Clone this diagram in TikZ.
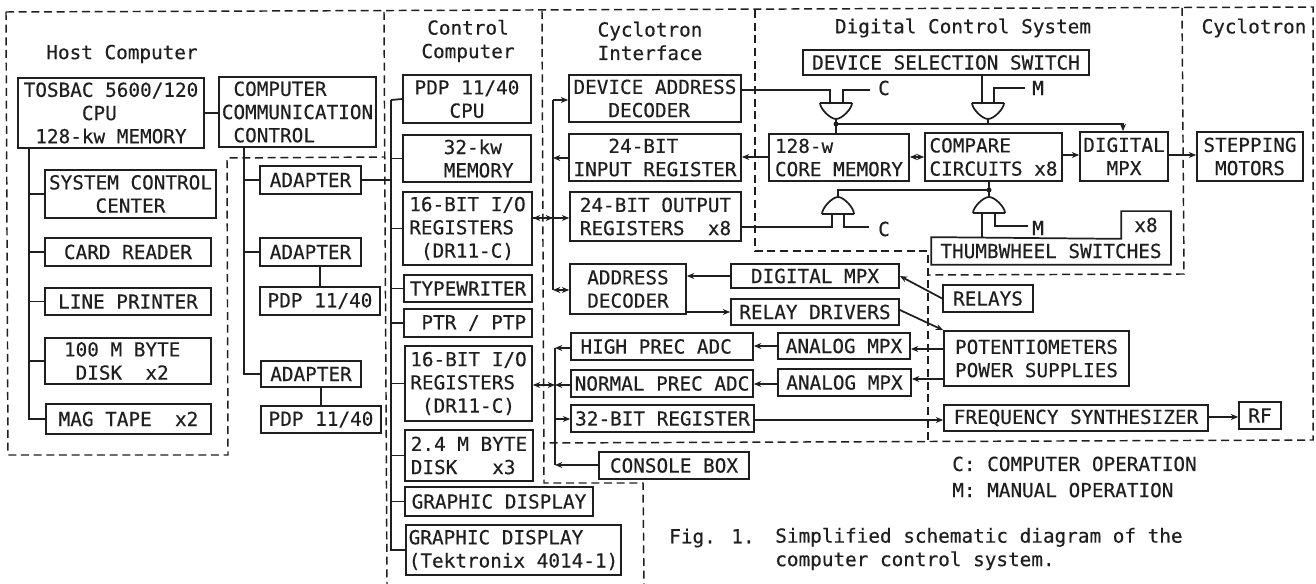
\documentclass[tikz,border=0pt]{standalone}
\usepackage{fontspec}
\setmainfont{DejaVu Sans Mono}[FakeBold=0.35]
\usetikzlibrary{arrows.meta}
\newcommand\cc{\phantom{0}}
\newcommand\bx[7][]{%
  \pgfmathsetmacro\bxw{(#5-#3)*0.75}%
  \pgfmathsetmacro\bxh{(#6-#4)*0.75}%
  \pgfmathsetmacro\bxx{(#3+#5)/2}%
  \pgfmathsetmacro\bxy{(#4+#6)/2}%
  \node[boxn,#1,minimum width=\bxw pt,minimum height=\bxh pt] (#2) at (\bxx,\bxy) {#7};}
% gate: name, centre x, flat y, tip y (tip may be above or below the flat side)
\newcommand\gate[4]{%
  \pgfmathsetmacro\gl{#2-16}\pgfmathsetmacro\gr{#2+16}%
  \pgfmathsetmacro\gm{#3+(#4-#3)*0.35}%
  \draw[wire] (\gl,#3) -- (\gr,#3) (\gl,#3) .. controls (\gl,\gm) and (#2-6,#4) .. (#2,#4)
     .. controls (#2+6,#4) and (\gr,\gm) .. (\gr,#3);
  \coordinate (#1) at (#2,#4);}
\tikzset{
  x=0.75pt,y=-0.75pt,
  wire/.style={line width=1.3pt,black!88},
  boxn/.style={draw=black!88,line width=1.3pt,inner sep=0pt,align=left,font=\fontsize{14.5pt}{17.4pt}\selectfont,text=black!88},
  free/.style={inner sep=0pt,font=\fontsize{14.5pt}{17.6pt}\selectfont,text=black!88,align=center},
  zone/.style={line width=1.1pt,black!88,dash pattern=on 6pt off 3.5pt},
  tipf/.style={-{Stealth[length=5.5pt,width=4.5pt]}},
  tipb/.style={{Stealth[length=5.5pt,width=4.5pt]}-},
  tipd/.style={{Stealth[length=5.5pt,width=4.5pt]}-{Stealth[length=5.5pt,width=4.5pt]}},
}
\begin{document}
\begin{tikzpicture}
\useasboundingbox (0,0) rectangle (1316,584);
\fill[white] (0,0) rectangle (1316,584);
% zones
\draw[zone] (6,12) -- (1313,7) -- (1313,440) -- (544,443);
\draw[zone] (6,12) -- (8,455) -- (228,455) -- (227,158) -- (384,157);
\draw[zone] (384,12) -- (387,584);
\draw[zone] (542,11) -- (544,483) -- (643,483) -- (644,584);
\draw[zone] (755,10) -- (755,251) -- (928,251) -- (928,441);
\draw[zone] (1182,8) -- (1184,274) -- (928,275);
% titles
\node[free] (t1) at (122,54) {Host Computer};
\node[free] (t2) at (468,41) {Control\\Computer};
\node[free] (t3) at (650,41) {Cyclotron\\Interface};
\node[free] (t4) at (963,28) {Digital Control System};
\node[free] (t5) at (1254,28) {Cyclotron};
% host
\bx{tos}{18}{78}{204}{148}{TOSBAC 5600/120\\\cc\cc\cc\cc\cc CPU\\\cc 128-kw MEMORY\cc}
\bx{comm}{219}{77}{376}{147}{\cc COMPUTER\\COMMUNICATION\\\cc CONTROL}
\bx{sys}{45}{170}{216}{218}{SYSTEM CONTROL\\\cc\cc\cc\cc CENTER}
\bx{card}{45}{238}{211}{266}{CARD READER}
\bx{line}{45}{288}{211}{315}{LINE PRINTER}
\bx{disk}{45}{338}{211}{384}{100 M BYTE\cc\\\cc DISK~~x2}
\bx{mag}{46}{404}{211}{434}{MAG TAPE~~x2}
\bx{ad1}{260}{166}{361}{194}{ADAPTER}
\bx{ad2}{260}{238}{361}{266}{ADAPTER}
\bx{pa}{260}{287}{380}{315}{PDP 11/40}
\bx{ad3}{261}{361}{361}{387}{ADAPTER}
\bx{pb}{261}{406}{381}{433}{PDP 11/40}
% control computer
\bx{cpu}{403}{75}{531}{123}{PDP 11/40\\\cc\cc\cc CPU}
\bx{mem}{403}{135}{531}{182}{\cc\cc32-kw\\\cc\cc MEMORY}
\bx{ioa}{403}{192}{532}{265}{16-BIT I/O\\REGISTERS\\\cc(DR11-C)}
\bx{type}{404}{275}{532}{302}{TYPEWRITER}
\bx{ptr}{404}{309}{532}{337}{\cc PTR / PTP}
\bx{iob}{405}{346}{532}{421}{16-BIT I/O\\REGISTERS\\\cc(DR11-C)}
\bx{dk}{405}{430}{533}{481}{2.4 M BYTE\\DISK~~~x3}
\bx{gd}{405}{487}{593}{516}{GRAPHIC DISPLAY}
\bx{gt}{406}{525}{621}{575}{GRAPHIC DISPLAY\\(Tektronix 4014-1)}
% interface
\bx{dev}{569}{75}{741}{122}{DEVICE ADDRESS\\\cc\cc\cc DECODER}
\bx{inr}{569}{134}{741}{181}{\cc\cc\cc 24-BIT\\INPUT REGISTER}
\bx{outr}{570}{192}{741}{241}{24-BIT OUTPUT\\REGISTERS~~x8}
\bx{addr}{570}{264}{686}{314}{ADDRESS\\DECODER}
\bx{hi}{571}{333}{753}{360}{HIGH PREC ADC\cc}
\bx{no}{571}{370}{753}{397}{NORMAL PREC ADC}
\bx{rg}{571}{405}{754}{432}{32-BIT REGISTER}
\bx{con}{599}{452}{749}{479}{CONSOLE BOX}
\bx{dm}{731}{264}{899}{288}{DIGITAL MPX}
\bx{rd}{731}{299}{899}{325}{RELAY DRIVERS}
\bx{ama}{778}{333}{910}{359}{ANALOG MPX}
\bx{amb}{778}{369}{911}{396}{ANALOG MPX}
% digital control
\bx{dss}{803}{50}{1089}{75}{DEVICE SELECTION SWITCH}
\bx{core}{769}{134}{909}{181}{128-w\\CORE MEMORY}
\bx{cmp}{925}{133}{1062}{181}{COMPARE\\CIRCUITS x8}
\bx{mpx}{1080}{132}{1168}{181}{DIGITAL\\\cc\cc MPX}
\bx[draw=none]{th}{932}{238}{1170}{264}{THUMBWHEEL SWITCHES}
\bx[draw=none]{te}{1122}{212}{1170}{238}{x8}
\draw[wire] (th.north west) -- (te.south west) -- (te.north west) -- (te.north east) -- (th.south east) -- (th.south west) -- cycle;
% cyclotron
\bx{step}{1197}{132}{1303}{181}{STEPPING\\\cc MOTORS}
\bx{rel}{943}{285}{1033}{312}{RELAYS}
\bx{pot}{944}{331}{1129}{386}{POTENTIOMETERS\\POWER SUPPLIES}
\bx{fs}{944}{405}{1208}{431}{FREQUENCY SYNTHESIZER}
\bx{rf}{1239}{402}{1281}{429}{RF}
% notes
\node[free,anchor=west,align=left] (n1) at (952,477) {C: COMPUTER OPERATION\\[2pt]M: MANUAL OPERATION};
\node[free,anchor=west] (n2) at (669,538) {Fig. 1.};
\node[free,anchor=west,align=left] (n3) at (775,549) {Simplified schematic diagram of the\\computer control system.};
% host wiring
\coordinate (hb) at (29,148);
\coordinate (cb) at (244,147);
\draw[wire] (hb) -- (hb |- mag.west) -- (mag.west);
\foreach \n in {sys,card,line,disk} \draw[wire] (hb |- \n.west) -- (\n.west);
\draw[wire] (comm.west |- 0,113) -- (tos.east |- 0,113);
\draw[wire] (cb) -- (cb |- ad3.west) -- (ad3.west);
\foreach \n in {ad1,ad2} \draw[wire] (cb |- \n.west) -- (\n.west);
\draw[wire] (ad2.south -| pa.north) -- (pa.north);
\draw[wire] (ad3.south -| pb.north) -- (pb.north);
% control bus
\coordinate (kb) at (391,100);
\draw[wire] (kb) -- (kb |- gt.west) -- (gt.west);
\draw[wire] (kb) -- (cpu.west);
\foreach \n in {mem,ioa,type,ptr,iob,dk,gd} \draw[wire] (kb |- \n.west) -- (\n.west);
\draw[wire] (ad1.east) -- (kb |- ad1.east);
% interface bus 1
\coordinate (b1) at (553,100);
\coordinate (b1e) at (553,290);
\draw[wire] (b1) -- (b1e);
\draw[wire,tipf] (b1) -- (dev.west |- b1);
\draw[wire,tipb] (b1 |- 0,158) -- (inr.west |- 0,158);
\draw[wire,tipd] (b1e) -- (addr.west |- b1e);
\draw[wire,tipd] (ioa.east |- 0,218) -- (outr.west |- 0,218);
\draw[wire,tipf] (ioa.east |- 0,218) -- (b1 |- 0,218);
% interface bus 2
\coordinate (b2) at (555,348);
\coordinate (b2e) at (555,465);
\draw[wire] (b2) -- (b2e);
\draw[wire,tipb] (b2) -- (hi.west |- b2);
\draw[wire,tipb] (b2 |- 0,385) -- (no.west |- 0,385);
\draw[wire,tipf] (b2 |- 0,419) -- (rg.west |- 0,419);
\draw[wire,tipb] (b2e) -- (con.west |- b2e);
\draw[wire,tipd] (iob.east |- 0,385) -- (b2 |- 0,385);
% address decoder and MPX side
\draw[wire,tipb] (addr.east |- dm.west) -- (dm.west);
\draw[wire,tipf] (addr.east |- rd.west) -- (rd.west);
\draw[wire,tipb] (dm.east |- 0,276) -- (rel.west);
\draw[wire,tipf] (rd.east |- 0,310) -- (pot.north west);
\draw[wire,tipb] (ama.east |- 0,349) -- (pot.west |- 0,349);
\draw[wire,tipb] (amb.east |- 0,379) -- (pot.west |- 0,379);
\draw[wire,tipb] (hi.east |- 0,346) -- (ama.west |- 0,346);
\draw[wire,tipb] (no.east |- 0,384) -- (amb.west |- 0,384);
\draw[wire,tipf] (rg.east |- 0,420) -- (fs.west |- 0,420);
\draw[wire,tipf] (fs.east |- 0,417) -- (rf.west |- 0,417);
% gates, upper
\gate{ga}{836}{103}{119}
\gate{gb}{988}{103}{119}
\draw[wire] (dev.east |- 0,90) -- (830,90) -- (830,103);
\node[free] (ca) at (884,88) {C};
\draw[wire] (843,103) -- (843,90) -- (870,90);
\draw[wire] (dss.south -| 982,0) -- (982,103);
\node[free] (ma) at (1038,88) {M};
\draw[wire] (994,103) -- (994,88) -- (1025,88);
\coordinate (ja) at (836,124);
\draw[wire] (ga) -- (ja) -- (core.north -| ja);
\draw[wire] (gb) -- (gb |- ja);
\draw[wire,tipf] (ja) -- (1123,124) -- (mpx.north -| 1123,0);
\fill[black!88] (ja) circle (2.5);
% gates, lower
\gate{gc}{838}{214}{197}
\gate{gd1}{989}{213}{197}
\coordinate (jb) at (989,190);
\draw[wire] (cmp.south -| jb) -- (jb) -- (gd1);
\draw[wire] (jb) -- (838,190) -- (gc);
\fill[black!88] (jb) circle (2.5);
\draw[wire] (outr.east |- 0,227) -- (832,227) -- (832,214);
\node[free] (cb2) at (884,229) {C};
\draw[wire] (844,214) -- (844,227) -- (869,227);
\draw[wire] (th.north -| 982,0) -- (982,213);
\node[free] (mb) at (1038,228) {M};
\draw[wire] (995,213) -- (995,226) -- (1028,226);
% core, compare, mux
\draw[wire,tipb] (inr.east |- 0,157) -- (core.west |- 0,157);
\draw[wire,tipd] (core.east |- 0,157) -- (cmp.west |- 0,157);
\draw[wire,tipf] (cmp.east |- 0,155) -- (mpx.west |- 0,155);
\draw[wire,tipf] (mpx.east |- 0,155) -- (step.west |- 0,155);
\end{tikzpicture}
\end{document}
